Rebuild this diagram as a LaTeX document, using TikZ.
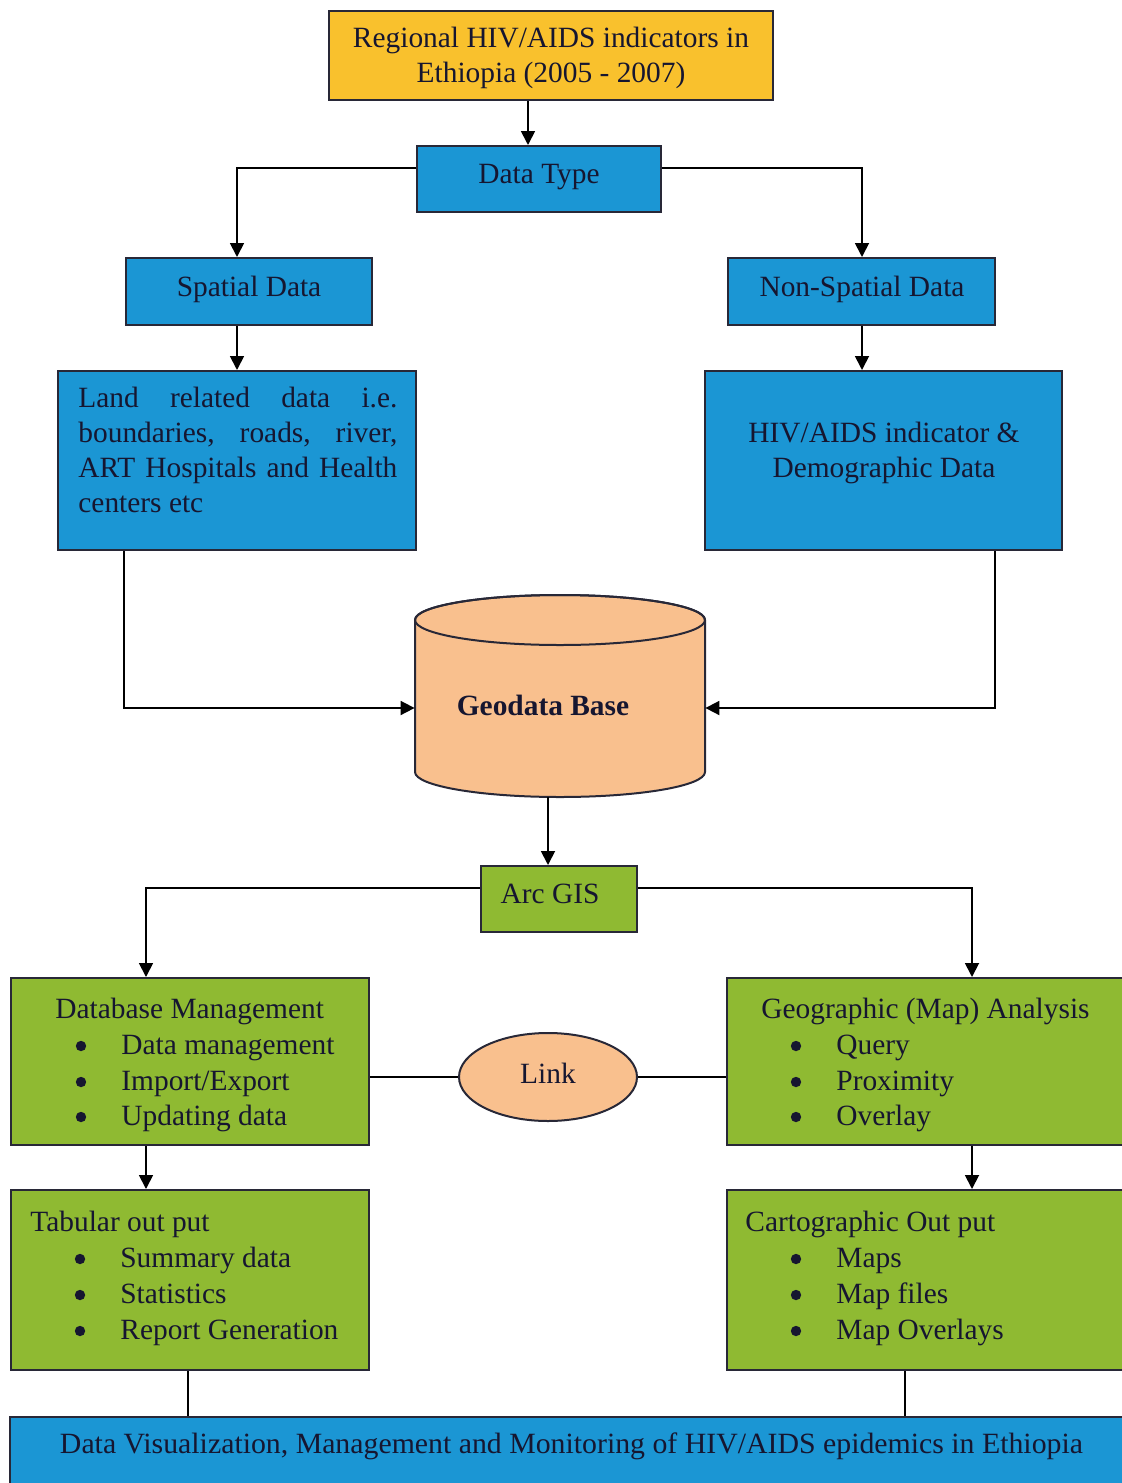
\documentclass[tikz,border=0pt]{standalone}
\usepackage{fontspec}
\usepackage{graphicx}
\setmainfont{Liberation Serif}
\usetikzlibrary{arrows.meta,shapes.geometric}
\definecolor{gold}{RGB}{249,193,45}
\definecolor{bluebox}{RGB}{27,150,212}
\definecolor{greenbox}{RGB}{143,186,50}
\definecolor{peach}{RGB}{249,192,142}
\definecolor{ink}{RGB}{22,22,48}
\definecolor{edge}{RGB}{40,40,55}
\tikzset{
  box/.style={draw=edge, line width=1pt, rectangle, inner sep=0pt},
  txt/.style={text=ink, font=\fontsize{14.7}{17.5}\selectfont, inner sep=0pt, anchor=base},
  ltxt/.style={txt, anchor=base west},
  conn/.style={draw=black, line width=0.9pt},
  arr/.style={conn, -{Triangle[length=7pt,width=7pt]}},
  bul/.style={fill=ink}
}
\begin{document}
\begin{tikzpicture}[x=0.5pt,y=-0.5pt]
\useasboundingbox (0,0) rectangle (1122,1483);
% boxes
\node[box, fill=gold, minimum width=222pt, minimum height=44.5pt] (top) at (551,55.5) {};
\node[box, fill=bluebox, minimum width=122pt, minimum height=33pt] (dtype) at (539,179) {};
\node[box, fill=bluebox, minimum width=123pt, minimum height=33.5pt] (spatial) at (249,291.5) {};
\node[box, fill=bluebox, minimum width=133.5pt, minimum height=33.5pt] (nonsp) at (861.5,291.5) {};
\node[box, fill=bluebox, minimum width=179pt, minimum height=89.5pt] (land) at (237,460.5) {};
\node[box, fill=bluebox, minimum width=178.5pt, minimum height=89.5pt] (hiv) at (883.5,460.5) {};
% cylinder
\draw[draw=edge, line width=1pt, fill=peach] (415,620) -- (415,772)
  arc[start angle=180, end angle=360, x radius=72.5pt, y radius=12.5pt]
  -- (705,620)
  arc[start angle=0, end angle=180, x radius=72.5pt, y radius=12.5pt] -- cycle;
\draw[draw=edge, line width=1pt] (560,620) ellipse [x radius=72.5pt, y radius=12.5pt];
\node[minimum width=145pt, minimum height=89pt, inner sep=0pt] (geo) at (560,708) {};
\node[box, fill=greenbox, minimum width=78pt, minimum height=33pt] (arc) at (559,899) {};
\node[box, fill=greenbox, minimum width=179pt, minimum height=83.5pt] (db) at (190,1061.5) {};
\node[box, fill=greenbox, minimum width=201.5pt, minimum height=83.5pt] (geoA) at (928.5,1061.5) {};
\node[draw=edge, line width=1pt, fill=peach, ellipse, inner sep=0pt, minimum width=89pt, minimum height=44pt] (link) at (548,1077) {};
\node[box, fill=greenbox, minimum width=179pt, minimum height=90pt] (tab) at (190,1280) {};
\node[box, fill=greenbox, minimum width=201.5pt, minimum height=90pt] (carto) at (928.5,1280) {};
\node[box, fill=bluebox, minimum width=560pt, minimum height=41.5pt] (bottom) at (570,1458.5) {};
% connectors
\draw[arr] (top.south -| 528,0) -- (dtype.north -| 528,0);
\draw[arr] (dtype.west |- 0,168) -| (spatial.north -| 237,0);
\draw[arr] (dtype.east |- 0,168) -| (nonsp.north -| 862,0);
\draw[arr] (spatial.south -| 237,0) -- (land.north -| 237,0);
\draw[arr] (nonsp.south -| 862,0) -- (hiv.north -| 862,0);
\draw[arr] (land.south -| 124,0) |- (geo.west);
\draw[arr] (hiv.south -| 995,0) |- (geo.east);
\draw[arr] (geo.south -| 548,0) -- (arc.north -| 548,0);
\draw[arr] (arc.west |- 0,888) -| (db.north -| 146,0);
\draw[arr] (arc.east |- 0,888) -| (geoA.north -| 972,0);
\draw[conn] (link.west -| db.east) -- (link.west);
\draw[conn] (link.east) -- (link.east -| geoA.west);
\draw[arr] (db.south -| 146,0) -- (tab.north -| 146,0);
\draw[arr] (geoA.south -| 972,0) -- (carto.north -| 972,0);
\draw[conn] (tab.south -| 188,0) -- (bottom.north -| 188,0);
\draw[conn] (carto.south -| 905,0) -- (bottom.north -| 905,0);
% texts
\node[txt] (t1) at (551,47) {Regional HIV/AIDS indicators in};
\node[txt] (t2) at (551,82) {Ethiopia (2005 - 2007)};
\node[txt] (t3) at (539,183) {Data Type};
\node[txt] (t4) at (249,296) {Spatial Data};
\node[txt] (t5) at (862,296) {Non-Spatial Data};
\node[ltxt] (t6) at (78,407) {\parbox[t]{159.5pt}{\fontsize{14.7}{17.5}\selectfont Land related data i.e.\linebreak boundaries, roads, river,\linebreak ART Hospitals and Health\linebreak centers etc}};
\node[txt] (t7) at (884,442) {HIV/AIDS indicator \&};
\node[txt] (t8) at (884,477) {Demographic Data};
\node[txt, font=\fontsize{14.7}{17.5}\selectfont\bfseries] (t9) at (543,715) {Geodata Base};
\node[txt] (t10) at (550,903) {Arc GIS};
\node[txt] (t11) at (548,1083) {Link};
% DB management
\node[ltxt] (d0) at (55,1018) {Database Management};
\node[ltxt] (d1) at (121,1054) {Data management};
\node[ltxt] (d2) at (121,1090) {Import/Export};
\node[ltxt] (d3) at (121,1125) {Updating data};
\fill[bul] (81,1046) circle (2.6pt) (81,1082) circle (2.6pt) (81,1117) circle (2.6pt);
% Geographic
\node[ltxt] (g0) at (761,1018) {Geographic (Map) Analysis};
\node[ltxt] (g1) at (836,1054) {Query};
\node[ltxt] (g2) at (836,1090) {Proximity};
\node[ltxt] (g3) at (836,1125) {Overlay};
\fill[bul] (796,1046) circle (2.6pt) (796,1082) circle (2.6pt) (796,1117) circle (2.6pt);
% Tabular
\node[ltxt] (u0) at (30,1231) {Tabular out put};
\node[ltxt] (u1) at (120,1267) {Summary data};
\node[ltxt] (u2) at (120,1303) {Statistics};
\node[ltxt] (u3) at (120,1339) {Report Generation};
\fill[bul] (80,1259) circle (2.6pt) (80,1295) circle (2.6pt) (80,1331) circle (2.6pt);
% Cartographic
\node[ltxt] (c0) at (745,1231) {Cartographic Out put};
\node[ltxt] (c1) at (836,1267) {Maps};
\node[ltxt] (c2) at (836,1303) {Map files};
\node[ltxt] (c3) at (836,1339) {Map Overlays};
\fill[bul] (796,1259) circle (2.6pt) (796,1295) circle (2.6pt) (796,1331) circle (2.6pt);
% bottom
\node[txt] (b1) at (571.5,1453) {\resizebox{511.5pt}{\height}{Data Visualization, Management and Monitoring of HIV/AIDS epidemics in Ethiopia}};
\end{tikzpicture}
\end{document}
